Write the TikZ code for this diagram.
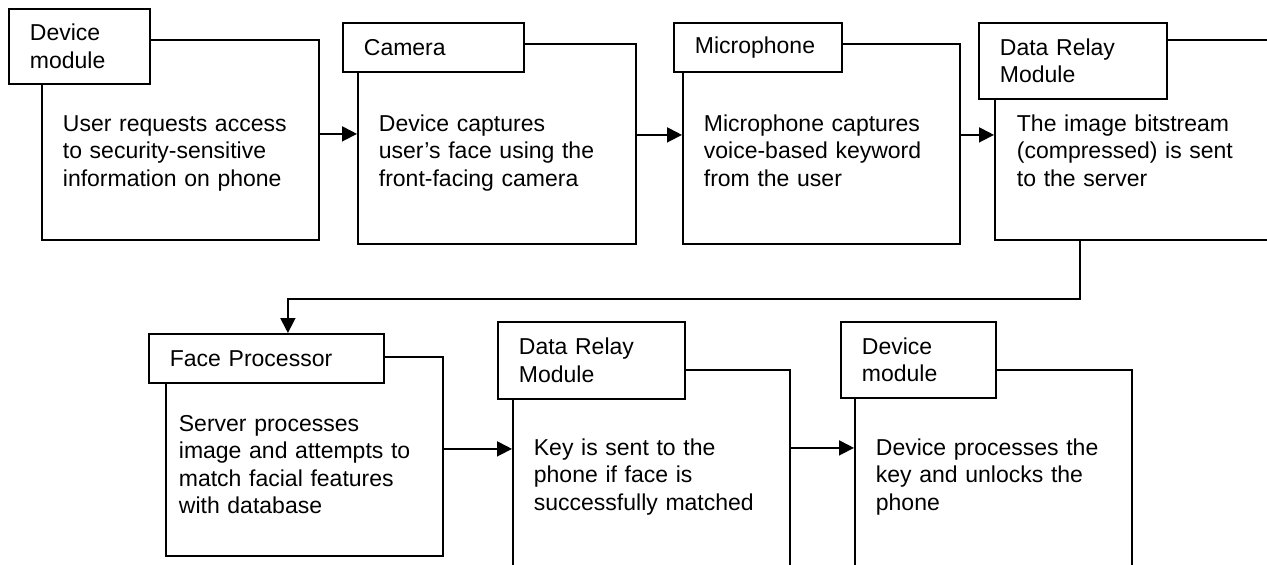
\documentclass[tikz,border=0pt]{standalone}
\usepackage{fontspec}
\setmainfont{Liberation Sans}
\usetikzlibrary{arrows.meta}

\begin{document}
\begin{tikzpicture}[x=1pt,y=-1pt,line width=1.8pt,
  body/.style={draw,anchor=north west,inner sep=0pt,minimum width=277pt,minimum height=200pt},
  tab/.style={draw,fill=white,anchor=north west,align=left,inner xsep=21pt,inner ysep=0pt,
    font=\fontsize{23}{27.5}\selectfont},
  txt/.style={anchor=base west,align=left,inner sep=0pt,text width=270pt,
    font=\fontsize{23}{27.5}\selectfont},
  flow/.style={-{Triangle[length=15pt,width=15pt]}}]
  \useasboundingbox (0,0) rectangle (1267,565);
  \clip (0,0) rectangle (1267,565);

  % upper row
  \node[body] (request) at (41,39) {};
  \node[tab,text width=99pt,minimum height=75pt] (request-tab) at (8,8) {Device\\module};
  \node[txt] (request-txt) at (62,131) {User requests access\\to security-sensitive\\information on phone};

  \node[body,minimum width=278pt] (capture) at (357,43) {};
  \node[tab,text width=139pt,minimum height=49pt] (capture-tab) at (342,22) {Camera};
  \node[txt] (capture-txt) at (378,131) {Device captures\\user’s face using the\\front-facing camera};

  \node[body] (voice) at (682,43) {};
  \node[tab,text width=126pt,minimum height=49pt] (voice-tab) at (673,22) {Microphone};
  \node[txt] (voice-txt) at (703,131) {Microphone captures\\voice-based keyword\\from the user};

  \node[body] (relay) at (994,39) {};
  \node[tab,text width=146pt,minimum height=76pt] (relay-tab) at (978,22) {Data Relay\\Module};
  \node[txt] (relay-txt) at (1016,131) {The image bitstream\\(compressed) is sent\\to the server};

  % lower row
  \node[body,minimum height=199pt] (match) at (165,356) {};
  \node[tab,text width=193pt,minimum height=49pt] (match-tab) at (148,333) {Face Processor};
  \node[txt] (match-txt) at (178,431) {Server processes\\image and attempts to\\match facial features\\with database};

  \node[body] (keysend) at (512,369) {};
  \node[tab,text width=145pt,minimum height=77pt] (keysend-tab) at (497,321) {Data Relay\\Module};
  \node[txt] (keysend-txt) at (533,455) {Key is sent to the\\phone if face is\\successfully matched};

  \node[body] (unlock) at (854,369) {};
  \node[tab,text width=113pt,minimum height=76pt] (unlock-tab) at (840,321) {Device\\module};
  \node[txt] (unlock-txt) at (875,455) {Device processes the\\key and unlocks the\\phone};

  % connectors
  \draw[flow] ([yshift=6pt]request.east) coordinate (a1) -- (a1 -| capture.west);
  \draw[flow] ([yshift=9pt]capture.east) coordinate (a2) -- (a2 -| voice.west);
  \draw[flow] ([yshift=9pt]voice.east) coordinate (a3) -- (a3 -| relay.west);
  \draw[flow] ([xshift=86pt]relay.south west) -- ++(0,58) -| ([xshift=21.5pt]match-tab.north);
  \draw[flow] ([yshift=7.5pt]match.east) coordinate (a4) -- (a4 -| keysend.west);
  \draw[flow] ([yshift=22pt]keysend.east) coordinate (a5) -- (a5 -| unlock.west);
\end{tikzpicture}
\end{document}
